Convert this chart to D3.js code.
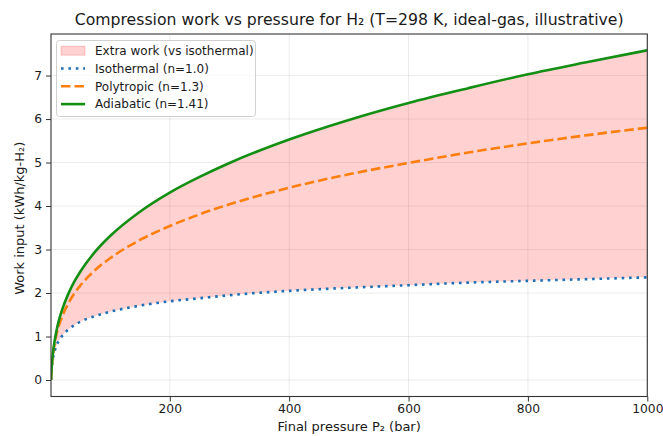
<!DOCTYPE html>
<html>
<head>
<meta charset="utf-8">
<script src="https://cdn.jsdelivr.net/npm/d3@7"></script>
<style>
  html, body { margin: 0; padding: 0; background: #fff; }
  svg { display: block; font-family: "DejaVu Sans", sans-serif; }
</style>
</head>
<body>
<svg id="chart" width="663" height="436"></svg>
<script>
// ---- data ----
const pressure   = [1, 2, 3, 5, 7, 10, 15, 20, 30, 40, 50, 75, 100, 150, 200, 250, 300, 400, 500, 600, 700, 800, 900, 1000];
const isothermal = [0, 0.24, 0.38, 0.55, 0.66, 0.79, 0.92, 1.02, 1.16, 1.26, 1.34, 1.47, 1.57, 1.71, 1.81, 1.88, 1.95, 2.05, 2.12, 2.18, 2.24, 2.28, 2.32, 2.36];
const polytropic = [0, 0.26, 0.43, 0.67, 0.84, 1.04, 1.28, 1.47, 1.76, 1.99, 2.17, 2.53, 2.80, 3.22, 3.54, 3.81, 4.04, 4.42, 4.73, 4.99, 5.23, 5.44, 5.63, 5.80];
const adiabatic  = [0, 0.26, 0.44, 0.70, 0.89, 1.12, 1.41, 1.63, 1.98, 2.26, 2.49, 2.95, 3.31, 3.87, 4.31, 4.67, 4.99, 5.53, 5.98, 6.37, 6.71, 7.03, 7.31, 7.58];
const xTicks = [200, 400, 600, 800, 1000];
const yTicks = [0, 1, 2, 3, 4, 5, 6, 7];
const legendLabels = ["Extra work (vs isothermal)", "Isothermal (n=1.0)", "Polytropic (n=1.3)", "Adiabatic (n=1.41)"];
const titleText = "Compression work vs pressure for H\u2082 (T=298 K, ideal-gas, illustrative)";
const xLabel = "Final pressure P\u2082 (bar)";
const yLabel = "Work input (kWh/kg-H\u2082)";

// ---- layout ----
const L = 51, R = 647.3, T = 34, B = 396.5;
const svg = d3.select("#chart");
const x = d3.scaleLinear().domain([1, 1000]).range([L, R]);
const y = d3.scaleLinear().domain([-0.379, 7.955]).range([B, T]);

const textColor = "#1a1a1a";
const colIso = "#1f6fb4", colPoly = "#ff7f0e", colAdi = "#138f13";

svg.append("defs").append("clipPath").attr("id", "clip")
  .append("rect").attr("x", L).attr("y", T).attr("width", R - L).attr("height", B - T);

// grid
const grid = svg.append("g").attr("stroke", "#b0b0b0").attr("stroke-opacity", 0.3).attr("stroke-width", 0.8);
grid.selectAll("line.gx").data(xTicks).join("line")
  .attr("x1", d => x(d)).attr("x2", d => x(d)).attr("y1", T).attr("y2", B);
grid.selectAll("line.gy").data(yTicks).join("line")
  .attr("y1", d => y(d)).attr("y2", d => y(d)).attr("x1", L).attr("x2", R);

const rows = pressure.map((p, i) => ({p, iso: isothermal[i], poly: polytropic[i], adi: adiabatic[i]}));
const plot = svg.append("g").attr("clip-path", "url(#clip)");

plot.append("path").datum(rows)
  .attr("fill", "red").attr("fill-opacity", 0.18)
  .attr("d", d3.area().curve(d3.curveMonotoneX).x(d => x(d.p)).y0(d => y(d.iso)).y1(d => y(d.adi)));

const line = key => d3.line().curve(d3.curveMonotoneX).x(d => x(d.p)).y(d => y(d[key]));
plot.append("path").datum(rows).attr("fill", "none").attr("stroke", colIso)
  .attr("stroke-width", 2.6).attr("stroke-dasharray", "2.6,4.8").attr("d", line("iso"));
plot.append("path").datum(rows).attr("fill", "none").attr("stroke", colPoly)
  .attr("stroke-width", 2.6).attr("stroke-dasharray", "9.5,4").attr("d", line("poly"));
plot.append("path").datum(rows).attr("fill", "none").attr("stroke", colAdi)
  .attr("stroke-width", 2.6).attr("d", line("adi"));

// axes
const xAxis = svg.append("g").attr("transform", `translate(0,${B})`)
  .call(d3.axisBottom(x).tickValues(xTicks).tickSize(5).tickPadding(3).tickFormat(d3.format("d")));
const yAxis = svg.append("g").attr("transform", `translate(${L},0)`)
  .call(d3.axisLeft(y).tickValues(yTicks).tickSize(5).tickPadding(4).tickFormat(d3.format("d")));
[xAxis, yAxis].forEach(a => {
  a.select(".domain").remove();
  a.selectAll("line").attr("stroke", "#333").attr("stroke-width", 1);
  a.selectAll("text").attr("fill", textColor).attr("font-size", 12.3).attr("font-family", "DejaVu Sans");
});
// frame
svg.append("rect").attr("x", L).attr("y", T).attr("width", R - L).attr("height", B - T)
  .attr("fill", "none").attr("stroke", "#333").attr("stroke-width", 1.1);

// labels
svg.append("text").attr("x", (L + R) / 2).attr("y", 25).attr("text-anchor", "middle")
  .attr("font-size", 15.7).attr("fill", textColor).text(titleText);
svg.append("text").attr("x", (L + R) / 2).attr("y", 431).attr("text-anchor", "middle")
  .attr("font-size", 13).attr("fill", textColor).text(xLabel);
svg.append("text").attr("transform", `translate(24,${(T + B) / 2 + 3}) rotate(-90)`).attr("text-anchor", "middle")
  .attr("font-size", 13).attr("fill", textColor).text(yLabel);

// legend
const lg = svg.append("g");
lg.append("rect").attr("x", 56.5).attr("y", 40.5).attr("width", 199).attr("height", 76).attr("rx", 3)
  .attr("fill", "#fff").attr("fill-opacity", 0.8).attr("stroke", "#d0d0d0").attr("stroke-width", 1);
const rowY = [50.7, 68.5, 86.3, 104.1];
lg.append("rect").attr("x", 61).attr("y", rowY[0] - 4.5).attr("width", 24).attr("height", 9)
  .attr("fill", "red").attr("fill-opacity", 0.18).attr("stroke", "red").attr("stroke-opacity", 0.18);
const hStyles = [
  {c: colIso, dash: "2.6,4.8"},
  {c: colPoly, dash: "9.5,4"},
  {c: colAdi, dash: null}
];
hStyles.forEach((s, i) => {
  lg.append("line").attr("x1", 61).attr("x2", 85).attr("y1", rowY[i + 1]).attr("y2", rowY[i + 1])
    .attr("stroke", s.c).attr("stroke-width", 2.6).attr("stroke-dasharray", s.dash);
});
lg.selectAll("text").data(legendLabels).join("text")
  .attr("x", 95).attr("y", (d, i) => rowY[i]).attr("dy", "0.35em")
  .attr("font-size", 12).attr("fill", textColor).text(d => d);
</script>
</body>
</html>
